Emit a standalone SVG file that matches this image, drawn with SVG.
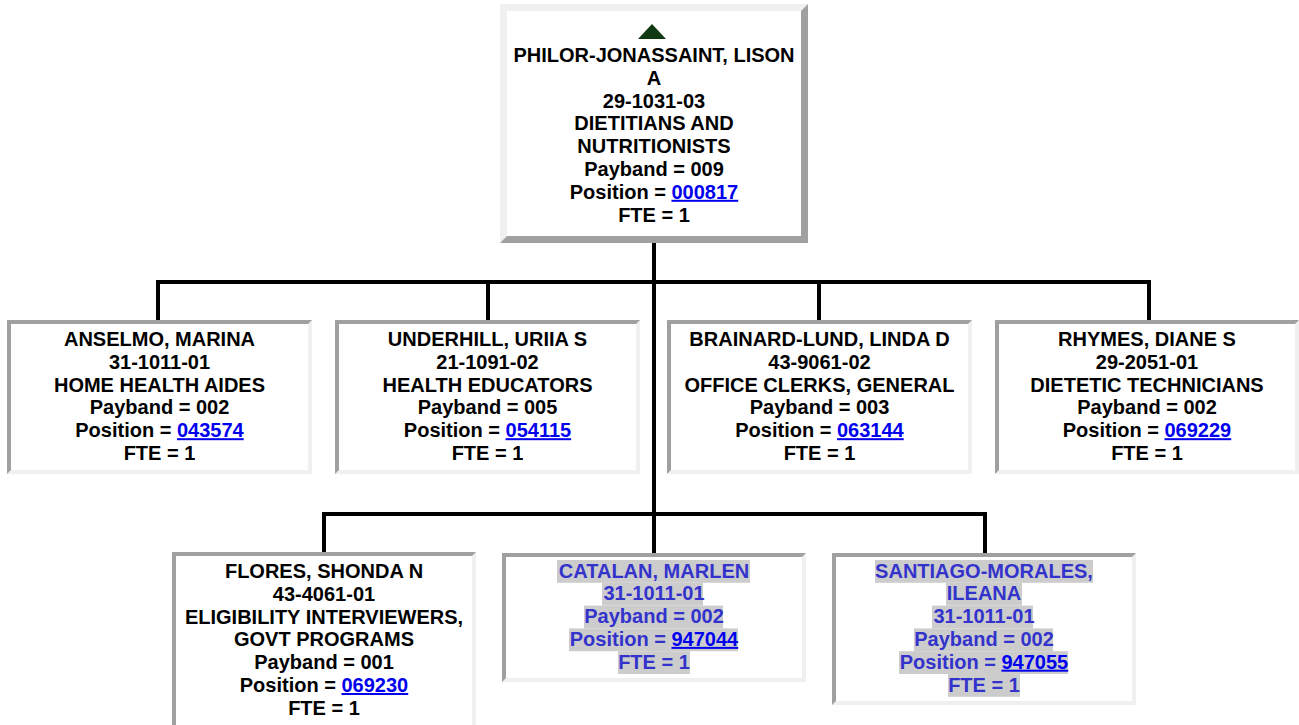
<svg xmlns="http://www.w3.org/2000/svg" width="1299" height="725" viewBox="0 0 1299 725">
<style>
  text { font-family: "Liberation Sans", Arial, sans-serif; font-size: 20px; font-weight: bold; text-anchor: middle; fill: #000; }
  .lnk { fill: #0000ee; text-decoration: underline; }
  .hl text { fill: #3333cc; }
  .hl .lnk { fill: #0000ee; }
  .hlbg { fill: #cccccc; }
  .dark { fill: #a0a0a0; }
  .light { fill: #f0f0f0; }
  .inner { fill: #ffffff; }
  .conn { fill: none; stroke: #000; stroke-width: 4; }
</style>
<rect width="1299" height="725" fill="#ffffff"/>

<g id="connectors">
  <path class="conn" d="M654 243 V516"/>
  <path class="conn" d="M158 320 V282 H1149 V320"/>
  <path class="conn" d="M488 282 V320"/>
  <path class="conn" d="M819 282 V320"/>
  <path class="conn" d="M324 553 V514 H985 V553"/>
  <path class="conn" d="M654 514 V553"/>
</g>

<g id="node-top">
  <rect class="dark" x="500" y="4" width="308" height="239"/>
  <polygon class="light" points="500,4 808,4 801,11 507,11 507,236 500,243"/>
  <rect class="inner" x="507" y="11" width="294" height="225"/>
  <polygon points="652,24 638,39 666,39" fill="#0f3a14"/>
  <text x="654" y="62">PHILOR-JONASSAINT, LISON</text>
  <text x="654" y="84.8">A</text>
  <text x="654" y="107.6">29-1031-03</text>
  <text x="654" y="130.4">DIETITIANS AND</text>
  <text x="654" y="153.2">NUTRITIONISTS</text>
  <text x="654" y="176">Payband = 009</text>
  <text x="654" y="198.8">Position = <tspan class="lnk">000817</tspan></text>
  <text x="654" y="221.6">FTE = 1</text>
</g>

<g id="node-anselmo">
  <rect class="light" x="7" y="320" width="305" height="154"/>
  <polygon class="dark" points="7,320 312,320 308,324 11,324 11,470 7,474"/>
  <rect class="inner" x="11" y="324" width="297" height="146"/>
  <text x="159.5" y="346">ANSELMO, MARINA</text>
  <text x="159.5" y="368.8">31-1011-01</text>
  <text x="159.5" y="391.6">HOME HEALTH AIDES</text>
  <text x="159.5" y="414.4">Payband = 002</text>
  <text x="159.5" y="437.2">Position = <tspan class="lnk">043574</tspan></text>
  <text x="159.5" y="460">FTE = 1</text>
</g>

<g id="node-underhill">
  <rect class="light" x="335" y="320" width="305" height="154"/>
  <polygon class="dark" points="335,320 640,320 636,324 339,324 339,470 335,474"/>
  <rect class="inner" x="339" y="324" width="297" height="146"/>
  <text x="487.5" y="346">UNDERHILL, URIIA S</text>
  <text x="487.5" y="368.8">21-1091-02</text>
  <text x="487.5" y="391.6">HEALTH EDUCATORS</text>
  <text x="487.5" y="414.4">Payband = 005</text>
  <text x="487.5" y="437.2">Position = <tspan class="lnk">054115</tspan></text>
  <text x="487.5" y="460">FTE = 1</text>
</g>

<g id="node-brainard">
  <rect class="light" x="667" y="320" width="305" height="154"/>
  <polygon class="dark" points="667,320 972,320 968,324 671,324 671,470 667,474"/>
  <rect class="inner" x="671" y="324" width="297" height="146"/>
  <text x="819.5" y="346">BRAINARD-LUND, LINDA D</text>
  <text x="819.5" y="368.8">43-9061-02</text>
  <text x="819.5" y="391.6">OFFICE CLERKS, GENERAL</text>
  <text x="819.5" y="414.4">Payband = 003</text>
  <text x="819.5" y="437.2">Position = <tspan class="lnk">063144</tspan></text>
  <text x="819.5" y="460">FTE = 1</text>
</g>

<g id="node-rhymes">
  <rect class="light" x="995" y="320" width="304" height="154"/>
  <polygon class="dark" points="995,320 1299,320 1295,324 999,324 999,470 995,474"/>
  <rect class="inner" x="999" y="324" width="296" height="146"/>
  <text x="1147" y="346">RHYMES, DIANE S</text>
  <text x="1147" y="368.8">29-2051-01</text>
  <text x="1147" y="391.6">DIETETIC TECHNICIANS</text>
  <text x="1147" y="414.4">Payband = 002</text>
  <text x="1147" y="437.2">Position = <tspan class="lnk">069229</tspan></text>
  <text x="1147" y="460">FTE = 1</text>
</g>

<g id="node-flores">
  <rect class="light" x="172" y="552" width="304" height="180"/>
  <polygon class="dark" points="172,552 476,552 472,556 176,556 176,728 172,732"/>
  <rect class="inner" x="176" y="556" width="296" height="172"/>
  <text x="324" y="578">FLORES, SHONDA N</text>
  <text x="324" y="600.8">43-4061-01</text>
  <text x="324" y="623.6">ELIGIBILITY INTERVIEWERS,</text>
  <text x="324" y="646.4">GOVT PROGRAMS</text>
  <text x="324" y="669.2">Payband = 001</text>
  <text x="324" y="692">Position = <tspan class="lnk">069230</tspan></text>
  <text x="324" y="714.8">FTE = 1</text>
</g>

<g id="node-catalan" class="hl">
  <rect class="light" x="502" y="553" width="304" height="129"/>
  <polygon class="dark" points="502,553 806,553 802,557 506,557 506,678 502,682"/>
  <rect class="inner" x="506" y="557" width="296" height="121"/>
  <rect class="hlbg" x="557" y="560" width="193" height="22.8"/>
  <rect class="hlbg" x="602" y="582.8" width="101" height="22.8"/>
  <rect class="hlbg" x="584" y="605.6" width="139" height="22.8"/>
  <rect class="hlbg" x="569" y="628.4" width="169" height="22.8"/>
  <rect class="hlbg" x="618" y="651.2" width="72" height="22.8"/>
  <text x="654" y="577.5">CATALAN, MARLEN</text>
  <text x="654" y="600.3">31-1011-01</text>
  <text x="654" y="623.1">Payband = 002</text>
  <text x="654" y="645.9">Position = <tspan class="lnk">947044</tspan></text>
  <text x="654" y="668.7">FTE = 1</text>
</g>

<g id="node-santiago" class="hl">
  <rect class="light" x="832" y="553" width="304" height="152"/>
  <polygon class="dark" points="832,553 1136,553 1132,557 836,557 836,701 832,705"/>
  <rect class="inner" x="836" y="557" width="296" height="144"/>
  <rect class="hlbg" x="875" y="560" width="218" height="22.8"/>
  <rect class="hlbg" x="946" y="582.8" width="76" height="22.8"/>
  <rect class="hlbg" x="932" y="605.6" width="101" height="22.8"/>
  <rect class="hlbg" x="914" y="628.4" width="139" height="22.8"/>
  <rect class="hlbg" x="899" y="651.2" width="169" height="22.8"/>
  <rect class="hlbg" x="948" y="674" width="72" height="22.8"/>
  <text x="984" y="577.5">SANTIAGO-MORALES,</text>
  <text x="984" y="600.3">ILEANA</text>
  <text x="984" y="623.1">31-1011-01</text>
  <text x="984" y="645.9">Payband = 002</text>
  <text x="984" y="668.7">Position = <tspan class="lnk">947055</tspan></text>
  <text x="984" y="691.5">FTE = 1</text>
</g>
</svg>
